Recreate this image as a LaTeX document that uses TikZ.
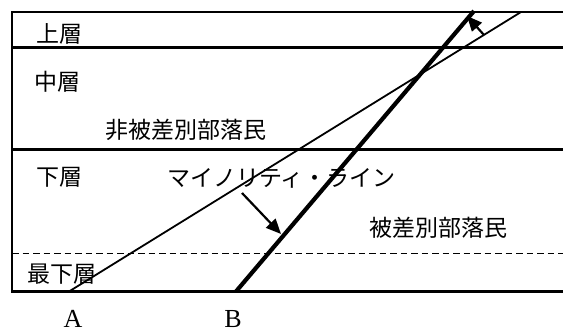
\documentclass[tikz,border=0pt]{standalone}
\usepackage{fontspec}
\setmainfont{Liberation Serif}
\newfontfamily\jp{Noto Sans CJK JP}
\usetikzlibrary{arrows.meta}
\begin{document}
\begin{tikzpicture}[x=1pt,y=-1pt,
  frame/.style={line width=2.1pt},
  dashline/.style={line width=1.9pt,dash pattern=on 6.5pt off 4pt},
  thinline/.style={line width=1.8pt},
  thickline/.style={line width=4.2pt},
  arr/.style={line width=2.2pt,-{Triangle[length=15pt,width=13pt]}},
  lab/.style={inner sep=0pt,anchor=west,font=\jp\fontsize{23pt}{23pt}\selectfont},
  letter/.style={inner sep=0pt,anchor=base,font=\fontsize{26pt}{26pt}\selectfont}]
\useasboundingbox (0,0) rectangle (563,333);
% frame
\draw[frame] (563,12) -- (12,12) -- (12,291.5) -- (563,291.5);
\draw[frame] (12,47.5) -- (563,47.5);
\draw[frame] (12,149.5) -- (563,149.5);
\draw[dashline] (12,253.5) -- (563,253.5);
% lines
\coordinate (A0) at (69,291.5);
\coordinate (A1) at (521,12);
\coordinate (B0) at (236,291.5);
\coordinate (B1) at (474,11);
\draw[thinline] (A0) -- (A1);
\draw[thickline] (B0) -- (B1);
% arrows
\coordinate (u0) at (484,35);
\coordinate (u1) at (467,16);
\coordinate (l0) at (242,193);
\coordinate (l1) at (281,234);
\draw[arr] (u0) -- (u1);
\draw[arr] (l0) -- (l1);
% labels
\node[lab] (jou) at (36,33.5) {上層};
\node[lab] (chu) at (34,81.5) {中層};
\node[lab] (hi) at (105,130) {非被差別部落民};
\node[lab] (ka) at (36,177) {下層};
\node[lab] (ml) at (167,178) {マイノリティ・ライン};
\node[lab] (bu) at (369,228) {被差別部落民};
\node[lab] (sai) at (27,274) {最下層};
\node[letter] (la) at (73,327) {A};
\node[letter] (lb) at (233,327) {B};
\end{tikzpicture}
\end{document}
